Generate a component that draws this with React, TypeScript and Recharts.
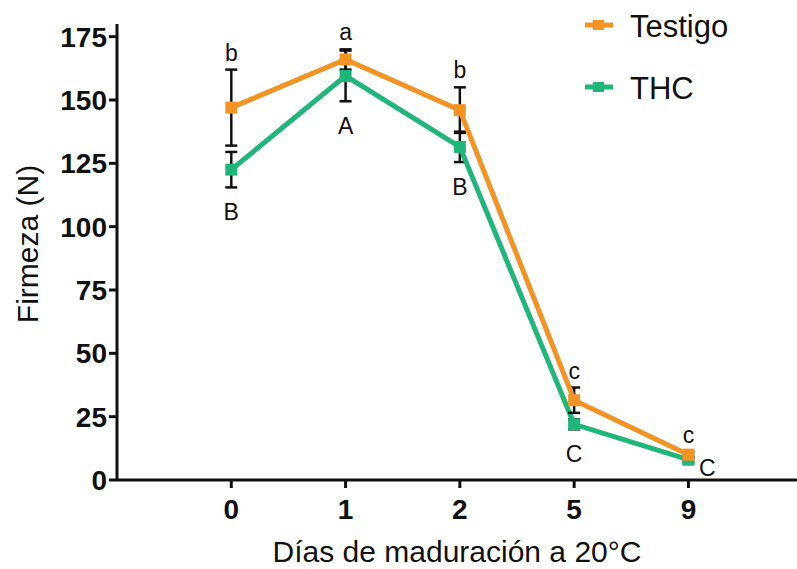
import React from 'react';
import { LineChart, Line, XAxis, YAxis, ErrorBar, LabelList } from 'recharts';

const days = ['0', '1', '2', '5', '9'];
const testigo = [147, 166, 146, 31.5, 10];
const testigoErr = [15, 4, 9, 5, 1];
const thc = [122.5, 159.5, 131.5, 22, 8];
const thcErr = [7, 10, 6, 2, 1];
const testigoLetters = ['b', 'a', 'b', 'c', 'c'];
const thcLetters = ['B', 'A', 'B', 'C', 'C'];
const yTicks = [0, 25, 50, 75, 100, 125, 150, 175];
const seriesNames = ['Testigo', 'THC'];

const ORANGE = '#F39324';
const GREEN = '#1FB67A';
const FONT = 'Liberation Sans, Arial, sans-serif';

const W = 797;
const H = 569;
const X_AXIS_H = 89;
const M = { top: 24, right: 0, bottom: 0, left: 0 };
const Y_MAX = 180;
const PX = (H - M.top - X_AXIS_H) / Y_MAX;

const data = days.map((d, i) => ({
  idx: i,
  day: d,
  testigo: testigo[i],
  testigoErr: testigoErr[i],
  thc: thc[i],
  thcErr: thcErr[i],
}));

const SquareDot = (color: string) => (props: any) => {
  const { cx, cy, index } = props;
  if (cx == null || cy == null) return <g key={index} />;
  return <rect key={index} x={cx - 6} y={cy - 6} width={12} height={12} fill={color} />;
};

const TopLetter = (props: any) => {
  const { x, y, index } = props;
  const capY = y - testigoErr[index] * PX;
  return (
    <text x={x} y={capY - 9} textAnchor="middle" fontSize={23} fontFamily={FONT} fill="#111">
      {testigoLetters[index]}
    </text>
  );
};

const BottomLetter = (props: any) => {
  const { x, y, index } = props;
  const last = index === days.length - 1;
  if (last) {
    return (
      <text x={x + 19} y={y + 16} textAnchor="middle" fontSize={23} fontFamily={FONT} fill="#111">
        {thcLetters[index]}
      </text>
    );
  }
  const capY = y + thcErr[index] * PX;
  return (
    <text x={x} y={capY + 33} textAnchor="middle" fontSize={23} fontFamily={FONT} fill="#111">
      {thcLetters[index]}
    </text>
  );
};

const LegendBox = () => {
  const colors = [ORANGE, GREEN];
  return (
    <svg width={200} height={120} style={{ position: 'absolute', left: 583, top: 4 }}>
      {seriesNames.map((name, i) => (
        <g key={name} transform={`translate(0, ${i * 62})`}>
          <line x1={2} y1={21} x2={30} y2={21} stroke={colors[i]} strokeWidth={5} />
          <rect x={10} y={16} width={11} height={10} fill={colors[i]} />
          <text x={47} y={33} fontSize={31} fontFamily={FONT} fill="#111">
            {name}
          </text>
        </g>
      ))}
    </svg>
  );
};

const YTitle = (props: any) => {
  const vb = props.viewBox || { y: M.top, height: H - M.top - X_AXIS_H };
  const cx = 27;
  const cy = vb.y + vb.height / 2 - 8;
  return (
    <text
      x={cx}
      y={cy}
      transform={`rotate(-90 ${cx} ${cy})`}
      textAnchor="middle"
      dominantBaseline="central"
      fontSize={30}
      fontFamily={FONT}
      fill="#111"
    >
      Firmeza (N)
    </text>
  );
};

export default function App() {
  return (
    <div style={{ position: 'absolute', left: 0, top: 0, width: W, height: H, background: '#fff' }}>
      <LineChart width={W} height={H} data={data} margin={M}>
        <XAxis
          type="number"
          dataKey="idx"
          domain={[-1, 4.95]}
          ticks={[0, 1, 2, 3, 4]}
          tickFormatter={(v: number) => days[v] ?? ''}
          allowDataOverflow
          axisLine={{ stroke: '#111', strokeWidth: 3 }}
          tickLine={{ stroke: '#111', strokeWidth: 3 }}
          tickSize={8}
          tickMargin={11}
          tick={{ fill: '#111', fontSize: 28, fontWeight: 'bold', fontFamily: FONT }}
          height={X_AXIS_H}
          label={{
            value: 'Días de maduración a 20°C',
            position: 'insideBottom',
            offset: 7,
            fill: '#111',
            fontSize: 30,
            fontFamily: FONT,
          }}
        />
        <YAxis
          type="number"
          domain={[0, Y_MAX]}
          ticks={yTicks}
          width={117}
          allowDataOverflow
          axisLine={{ stroke: '#111', strokeWidth: 3 }}
          tickLine={{ stroke: '#111', strokeWidth: 3 }}
          tickSize={8}
          tickMargin={2}
          tick={{ fill: '#111', fontSize: 28, fontWeight: 'bold', fontFamily: FONT }}
          label={<YTitle />}
        />
        <Line
          type="linear"
          dataKey="thc"
          name={seriesNames[1]}
          stroke={GREEN}
          strokeWidth={5}
          dot={SquareDot(GREEN)}
          activeDot={false}
          isAnimationActive={false}
        >
          <ErrorBar dataKey="thcErr" direction="y" width={6} stroke="#111" strokeWidth={2.5} />
          <LabelList dataKey="thc" content={<BottomLetter />} />
        </Line>
        <Line
          type="linear"
          dataKey="testigo"
          name={seriesNames[0]}
          stroke={ORANGE}
          strokeWidth={5}
          dot={SquareDot(ORANGE)}
          activeDot={false}
          isAnimationActive={false}
        >
          <ErrorBar dataKey="testigoErr" direction="y" width={6} stroke="#111" strokeWidth={2.5} />
          <LabelList dataKey="testigo" content={<TopLetter />} />
        </Line>
      </LineChart>
      <LegendBox />
    </div>
  );
}
